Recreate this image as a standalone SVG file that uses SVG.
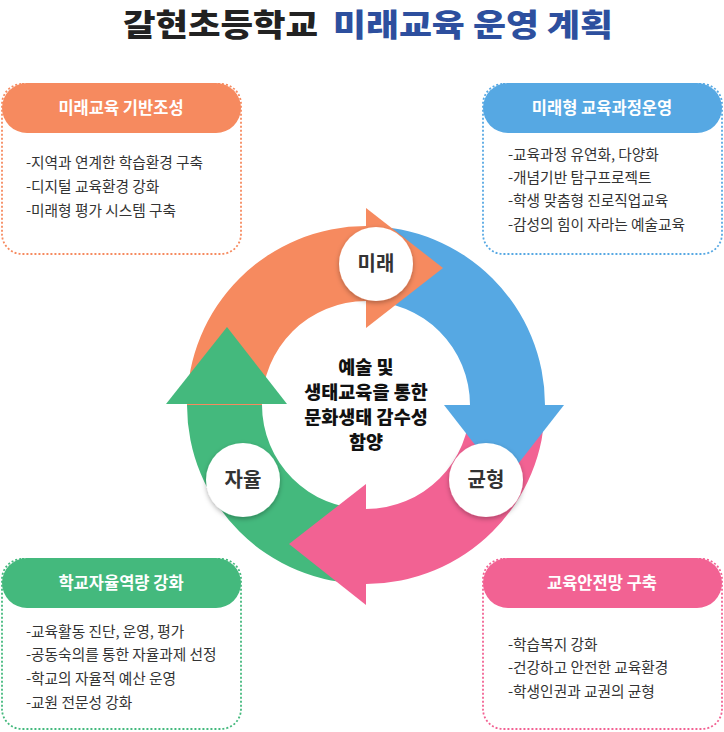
<svg xmlns="http://www.w3.org/2000/svg" width="724" height="732" viewBox="0 0 724 732">
<style>
.title{font-family:"Noto Sans CJK KR","Noto Sans",sans-serif;font-weight:900;font-size:31px}
.hdr{font-family:"Noto Sans CJK KR","Noto Sans",sans-serif;font-weight:700;font-size:16.5px;fill:#fff;text-anchor:middle}
.body{font-family:"Noto Sans CJK KR","Noto Sans",sans-serif;font-weight:400;font-size:14.7px;fill:#333}
.lbl{font-family:"Noto Sans CJK KR","Noto Sans",sans-serif;font-weight:700;font-size:20px;fill:#333;text-anchor:middle}
.ctr{font-family:"Noto Sans CJK KR","Noto Sans",sans-serif;font-weight:900;font-size:18.5px;fill:#111;text-anchor:middle}
.dot{fill:#fff;stroke-width:1.8;stroke-dasharray:2 2}
.circ{fill:#fff;filter:url(#sh)}
</style>
<defs>
<filter id="sh" x="-30%" y="-30%" width="160%" height="160%">
<feDropShadow dx="0" dy="2" stdDeviation="2.5" flood-color="#000" flood-opacity="0.3"/>
</filter>
</defs>
<rect width="724" height="732" fill="#fff"/>
<g id="title">
<text class="title" x="123" y="36" fill="#222" textLength="195" lengthAdjust="spacingAndGlyphs">갈현초등학교</text>
<text class="title" x="333" y="36" fill="#2d4f9e" textLength="280" lengthAdjust="spacingAndGlyphs">미래교육 운영 계획</text>
</g>
<g id="box-future-base">
<rect class="dot" x="2" y="84" width="239" height="170" rx="20" stroke="#f68a5f"/>
<rect x="2" y="83" width="239" height="50" rx="25" fill="#f68a5f"/>
<text class="hdr" x="121" y="114">미래교육 기반조성</text>
<text class="body" x="26" y="168">-지역과 연계한 학습환경 구축</text>
<text class="body" x="26" y="192">-디지털 교육환경 강화</text>
<text class="body" x="26" y="216">-미래형 평가 시스템 구축</text>
</g>
<g id="box-curriculum">
<rect class="dot" x="483" y="84" width="239" height="170" rx="20" stroke="#56a8e3"/>
<rect x="483" y="83" width="239" height="50" rx="25" fill="#56a8e3"/>
<text class="hdr" x="602" y="114">미래형 교육과정운영</text>
<text class="body" x="508" y="160">-교육과정 유연화, 다양화</text>
<text class="body" x="508" y="183">-개념기반 탐구프로젝트</text>
<text class="body" x="508" y="206">-학생 맞춤형 진로직업교육</text>
<text class="body" x="508" y="230">-감성의 힘이 자라는 예술교육</text>
</g>
<g id="box-autonomy">
<rect class="dot" x="2" y="559" width="239" height="170" rx="20" stroke="#44b97d"/>
<rect x="2" y="558" width="239" height="50" rx="25" fill="#44b97d"/>
<text class="hdr" x="121" y="589">학교자율역량 강화</text>
<text class="body" x="26" y="637">-교육활동 진단, 운영, 평가</text>
<text class="body" x="26" y="660">-공동숙의를 통한 자율과제 선정</text>
<text class="body" x="26" y="684">-학교의 자율적 예산 운영</text>
<text class="body" x="26" y="708">-교원 전문성 강화</text>
</g>
<g id="box-safety">
<rect class="dot" x="483" y="559" width="239" height="170" rx="20" stroke="#f26293"/>
<rect x="483" y="558" width="239" height="50" rx="25" fill="#f26293"/>
<text class="hdr" x="602" y="589">교육안전망 구축</text>
<text class="body" x="508" y="650">-학습복지 강화</text>
<text class="body" x="508" y="673">-건강하고 안전한 교육환경</text>
<text class="body" x="508" y="697">-학생인권과 교권의 균형</text>
</g>
<g id="connectors">
<path d="M187 405A179 179 0 0 1 366 226L366 301A104 104 0 0 0 262 405Z" fill="#f68a5f"/>
<path d="M366 226A179 179 0 0 1 545 405L470 405A104 104 0 0 0 366 301Z" fill="#56a8e3"/>
<path d="M545 405A179 179 0 0 1 366 584L366 509A104 104 0 0 0 470 405Z" fill="#f26293"/>
<path d="M366 584A179 179 0 0 1 187 405L262 405A104 104 0 0 0 366 509Z" fill="#44b97d"/>
<polygon points="366,208 366,328 443,268" fill="#f68a5f"/>
<polygon points="444,405 564,405 504,482" fill="#56a8e3"/>
<polygon points="366,484 366,605 289,544" fill="#f26293"/>
<polygon points="166,404 287,404 227,327" fill="#44b97d"/>
</g>
<g id="center">
<text class="ctr" x="366" y="374">예술 및</text>
<text class="ctr" x="366" y="399">생태교육을 통한</text>
<text class="ctr" x="366" y="424">문화생태 감수성</text>
<text class="ctr" x="366" y="449">함양</text>
</g>
<g id="node-future">
<circle class="circ" cx="376" cy="264" r="37"/>
<text class="lbl" x="376" y="271">미래</text>
</g>
<g id="node-balance">
<circle class="circ" cx="486" cy="480" r="37"/>
<text class="lbl" x="486" y="487">균형</text>
</g>
<g id="node-autonomy">
<circle class="circ" cx="243" cy="480" r="37"/>
<text class="lbl" x="243" y="487">자율</text>
</g>
</svg>
